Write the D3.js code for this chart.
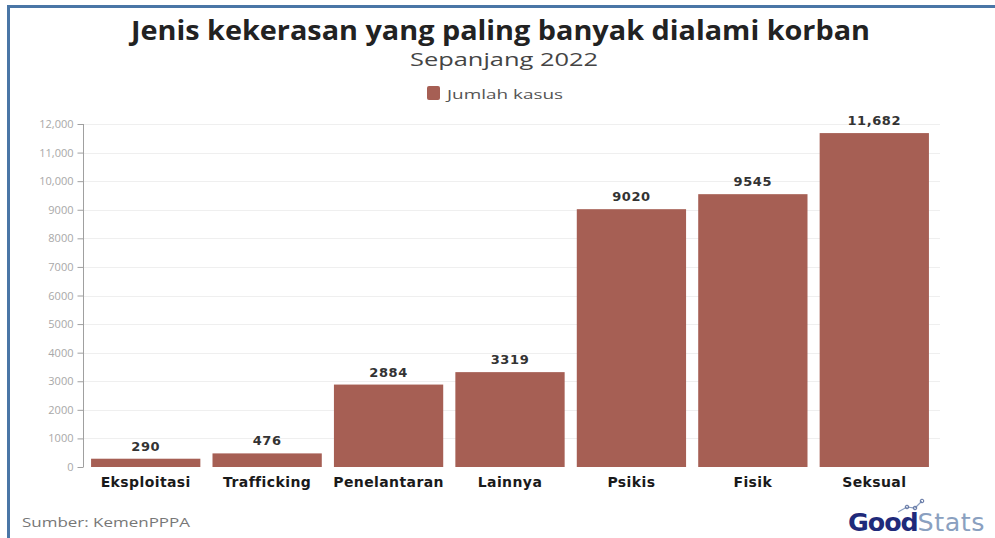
<!DOCTYPE html>
<html><head><meta charset="utf-8">
<script src="https://cdn.jsdelivr.net/npm/d3@7"></script>
<style>
html,body{margin:0;padding:0;background:#fff;}
svg{display:block;font-family:"Open Sans","Noto Sans",sans-serif;}
</style></head>
<body>
<svg id="chart" width="995" height="538"></svg>
<script>
const categories = ["Eksploitasi","Trafficking","Penelantaran","Lainnya","Psikis","Fisik","Seksual"];
const values = [290, 476, 2884, 3319, 9020, 9545, 11682];
const valueLabels = ["290","476","2884","3319","9020","9545","11,682"];
const yTicks = [0,1000,2000,3000,4000,5000,6000,7000,8000,9000,10000,11000,12000];
const yTickLabels = ["0","1000","2000","3000","4000","5000","6000","7000","8000","9000","10,000","11,000","12,000"];
const seriesName = "Jumlah kasus";

const svg = d3.select("#chart");
const W = 995, H = 538;
const barColor = "#a65f54";

// frame border
svg.append("rect").attr("x",0).attr("y",0).attr("width",W).attr("height",H).attr("fill","#fff");
svg.append("line").attr("x1",8.5).attr("x2",8.5).attr("y1",5).attr("y2",H).attr("stroke","#4a76a6").attr("stroke-width",3);
svg.append("line").attr("x1",7).attr("x2",W).attr("y1",6.5).attr("y2",6.5).attr("stroke","#4a76a6").attr("stroke-width",3);

const x = d3.scaleBand().domain(categories).range([85, 935]).paddingInner(0.1).paddingOuter(0.05);
const y = d3.scaleLinear().domain([0, 12000]).range([467, 124]);

// gridlines
svg.append("g").selectAll("line").data(yTicks.slice(1)).join("line")
  .attr("x1",84).attr("x2",940)
  .attr("y1",d=>Math.round(y(d))+0.5).attr("y2",d=>Math.round(y(d))+0.5)
  .attr("stroke","#efefef").attr("stroke-width",1);

// y axis
const yAxis = d3.axisLeft(y).tickValues(yTicks).tickSize(6).tickPadding(4)
  .tickFormat((d,i)=>yTickLabels[i]);
const ga = svg.append("g").attr("transform","translate(83.5,0)").call(yAxis);
ga.select(".domain").attr("stroke","#a0a0a0").attr("d","M0,"+y(12000)+"V"+y(0));
ga.selectAll(".tick line").attr("stroke","#a0a0a0");
ga.selectAll(".tick text").attr("fill","#a8a8a8").style("font-size","11px").style("font-family","'Open Sans',sans-serif");

// bars
svg.append("g").selectAll("rect").data(values).join("rect")
  .attr("x",(d,i)=>x(categories[i]))
  .attr("width",x.bandwidth())
  .attr("y",d=>y(d))
  .attr("height",d=>y(0)-y(d))
  .attr("fill",barColor);

// value labels
svg.append("g").selectAll("text").data(values).join("text")
  .attr("x",(d,i)=>x(categories[i])+x.bandwidth()/2)
  .attr("y",d=>y(d)-8)
  .attr("text-anchor","middle")
  .attr("fill","#333")
  .style("font-size","13px").style("font-weight","bold")
  .style("font-family","'DejaVu Sans',sans-serif")
  .style("letter-spacing","0.6px")
  .text((d,i)=>valueLabels[i]);

// x labels
svg.append("g").selectAll("text").data(categories).join("text")
  .attr("x",d=>x(d)+x.bandwidth()/2)
  .attr("y",487)
  .attr("text-anchor","middle")
  .attr("fill","#1a1a1a")
  .style("font-size","14px").style("font-weight","bold")
  .style("font-family","'DejaVu Sans',sans-serif")
  .style("letter-spacing","0.4px")
  .text(d=>d);

// title
svg.append("text").attr("x",500.5).attr("y",40).attr("text-anchor","middle")
  .attr("fill","#222").style("font-size","26px").style("font-weight","bold")
  .attr("textLength",739).attr("lengthAdjust","spacingAndGlyphs")
  .text("Jenis kekerasan yang paling banyak dialami korban");
svg.append("text").attr("x",504).attr("y",66).attr("text-anchor","middle")
  .attr("fill","#444").style("font-size","19px")
  .attr("textLength",188).attr("lengthAdjust","spacingAndGlyphs")
  .text("Sepanjang 2022");

// legend
svg.append("rect").attr("x",427).attr("y",86).attr("width",13).attr("height",14).attr("rx",2).attr("fill",barColor);
svg.append("text").attr("x",447).attr("y",98.5).attr("fill","#555").style("font-size","13.5px")
  .attr("textLength",116).attr("lengthAdjust","spacingAndGlyphs").text(seriesName);

// footer
svg.append("text").attr("x",22).attr("y",527).attr("fill","#777").style("font-size","13.5px")
  .attr("textLength",168).attr("lengthAdjust","spacingAndGlyphs").text("Sumber: KemenPPPA");

const logo = svg.append("text").attr("x",848).attr("y",531).style("font-size","24px").style("font-family","'DejaVu Sans',sans-serif")
  .attr("textLength",137).attr("lengthAdjust","spacingAndGlyphs");
logo.append("tspan").attr("fill","#1f2a7a").style("font-weight","bold").style("letter-spacing","-1px").text("Good");
logo.append("tspan").attr("fill","#8aa0c0").style("letter-spacing","0.5px").text("Stats");
// small graph icon above logo
const icon = [[898,512],[907,507],[915,508],[922,501]];
svg.append("path").attr("d",d3.line()(icon)).attr("fill","none").attr("stroke","#8a9ec0").attr("stroke-width",1.2);
svg.append("g").selectAll("circle").data(icon.slice(1)).join("circle")
  .attr("cx",d=>d[0]).attr("cy",d=>d[1]).attr("r",1.8).attr("fill","none").attr("stroke","#5c70a0").attr("stroke-width",1);
</script>
</body></html>
